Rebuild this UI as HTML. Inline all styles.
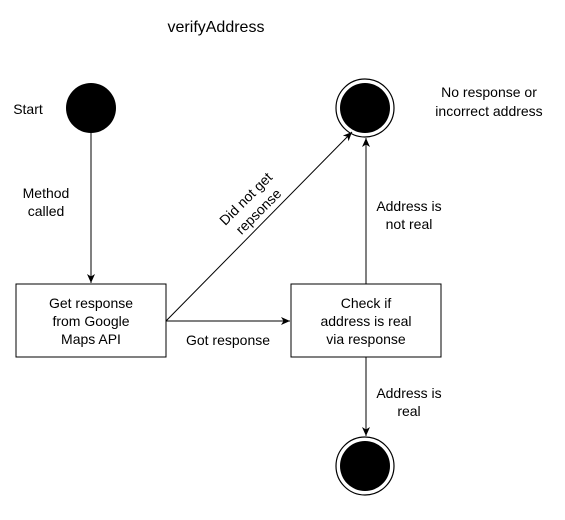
<!DOCTYPE html>
<html><head><style>
body{margin:0;background:#fff;}
svg text{font-family:"Liberation Sans",sans-serif;font-size:14px;fill:#000;}
</style></head><body>
<svg width="565" height="515" viewBox="0 0 565 515" xmlns="http://www.w3.org/2000/svg">
<defs><marker id="a" markerWidth="10" markerHeight="10" refX="9" refY="5" orient="auto" markerUnits="userSpaceOnUse"><path d="M0,1 L9,5 L0,9 L2.5,5 Z" fill="#000"/></marker></defs>
<text x="216" y="32" text-anchor="middle" font-size="16" style="font-size:16px">verifyAddress</text>
<text x="28" y="114" text-anchor="middle">Start</text>
<circle cx="91" cy="108" r="25" fill="#000"/>
<circle cx="365" cy="108" r="29" fill="#fff" stroke="#000" stroke-width="1.2"/>
<circle cx="365" cy="108" r="25" fill="#000"/>
<circle cx="365" cy="466" r="29" fill="#fff" stroke="#000" stroke-width="1.2"/>
<circle cx="365" cy="466" r="25" fill="#000"/>
<text x="489" y="97" text-anchor="middle">No response or</text>
<text x="489" y="116" text-anchor="middle">incorrect address</text>
<line x1="91" y1="133" x2="91" y2="283" stroke="#000" marker-end="url(#a)"/>
<rect x="20" y="182" width="52" height="40" fill="#fff"/>
<text x="46" y="198" text-anchor="middle">Method</text>
<text x="46" y="216" text-anchor="middle">called</text>
<rect x="16" y="284" width="150" height="73" fill="#fff" stroke="#000"/>
<text x="91" y="308" text-anchor="middle">Get response</text>
<text x="91" y="326" text-anchor="middle">from Google</text>
<text x="91" y="344" text-anchor="middle">Maps API</text>
<rect x="291" y="284" width="150" height="73" fill="#fff" stroke="#000"/>
<text x="366" y="308" text-anchor="middle">Check if</text>
<text x="366" y="326" text-anchor="middle">address is real</text>
<text x="366" y="344" text-anchor="middle">via response</text>
<line x1="166" y1="321" x2="290" y2="321" stroke="#000" marker-end="url(#a)"/>
<text x="228" y="345" text-anchor="middle">Got response</text>
<line x1="166" y1="321" x2="352" y2="132" stroke="#000" marker-end="url(#a)"/>
<g transform="translate(252,205) rotate(-45)">
<text x="0" y="-4" text-anchor="middle">Did not get</text>
<text x="0" y="14" text-anchor="middle">repsonse</text>
</g>
<line x1="366" y1="284" x2="366" y2="138" stroke="#000" marker-end="url(#a)"/>
<rect x="370" y="195" width="80" height="40" fill="#fff"/>
<text x="409" y="211" text-anchor="middle">Address is</text>
<text x="409" y="229" text-anchor="middle">not real</text>
<line x1="366" y1="357" x2="366" y2="436" stroke="#000" marker-end="url(#a)"/>
<text x="409" y="398" text-anchor="middle">Address is</text>
<text x="409" y="416" text-anchor="middle">real</text>
</svg>
</body></html>
